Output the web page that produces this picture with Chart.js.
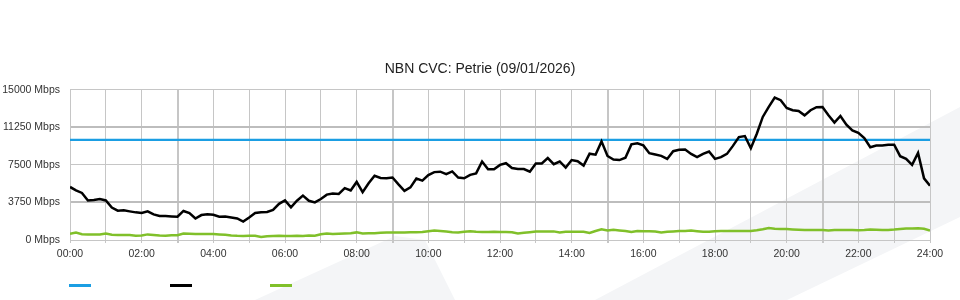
<!DOCTYPE html>
<html>
<head>
<meta charset="utf-8">
<title>NBN CVC: Petrie</title>
<script src="https://cdn.jsdelivr.net/npm/chart.js@4/dist/chart.umd.min.js"></script>
<style>
  body { margin:0; background:#fff; }
  #wrap { position:relative; width:960px; height:300px; overflow:hidden; }
  #wrap svg, #wrap canvas { position:absolute; left:0; top:0; }
  .key { position:absolute; top:284px; width:22px; height:3px; }
</style>
</head>
<body>
<div id="wrap">
  <svg width="960" height="300">
    <polygon points="255,300 395,236 425,240 455,300" fill="#f4f5f7"/>
    <polygon points="595,300 960,107 960,217 787,300" fill="#f4f5f7"/>
  </svg>
  <canvas id="cvc" width="960" height="300"></canvas>
  <div class="key" style="left:69px;background:#1b9ee3"></div>
  <div class="key" style="left:170px;background:#000"></div>
  <div class="key" style="left:270px;background:#80c02a"></div>
</div>
<script>
// samples every 10 minutes, 00:00 -> 24:00
const SAMPLE_MIN = 10;
const capacityMbps = 10000;

const trafficMbps = [
  5300, 4950, 4700, 3950, 3990, 4090, 3950, 3240, 2930, 2970, 2860, 2760, 2690, 2860, 2560, 2390, 2390, 2350, 2320, 2900, 2690, 2150, 2490, 2560, 2520,
  2320, 2350, 2250, 2150, 1840, 2250, 2690, 2760, 2800, 3000, 3610, 3950, 3270, 3920, 4430, 3920, 3750, 4090, 4530, 4640, 4600, 5180, 4940, 5800,
  4770, 5660, 6410, 6200, 6170, 6240, 5560, 4910, 5250, 6140, 5930, 6480, 6780, 6820, 6580, 6850, 6240, 6170, 6510, 6650, 7840, 7060, 7060, 7500,
  7670, 7190, 7090, 7090, 6820, 7640, 7640, 8180, 7570, 7840, 7230, 7980, 7870, 7430, 8620, 8520, 9850, 8390, 8040, 7980, 8220, 9550, 9650, 9450,
  8670, 8540, 8400, 8100, 8870, 9010, 9040, 8600, 8270, 8600, 8840, 8100, 8270, 8600, 9400, 10280, 10380, 9170, 10610, 12290, 13290, 14230, 13960, 13190,
  12960, 12890, 12450, 12960, 13260, 13290, 12450, 11720, 12390, 11520, 10950, 10710, 10180, 9270, 9440, 9440, 9510, 9510, 8370, 8100, 7500, 8700, 6160, 5420
];

const baseMbps = [
  620, 740, 580, 560, 560, 540, 650, 520, 510, 510, 500, 420, 450, 560, 500, 440, 420, 480, 470, 640, 620, 600, 600, 600, 590,
  560, 520, 450, 420, 410, 420, 420, 300, 380, 410, 420, 410, 410, 420, 410, 460, 420, 570, 640, 600, 620, 650, 680, 760,
  640, 680, 680, 720, 750, 750, 740, 750, 770, 780, 800, 880, 950, 900, 840, 770, 760, 820, 880, 820, 790, 800, 820, 800,
  790, 780, 660, 720, 780, 850, 850, 850, 860, 760, 820, 820, 830, 820, 700, 900, 1060, 940, 1020, 960, 900, 800, 900, 880,
  880, 840, 760, 830, 860, 900, 900, 950, 880, 820, 820, 880, 900, 900, 900, 900, 900, 900, 980, 1080, 1200, 1120, 1100, 1090,
  1050, 1020, 1000, 1010, 1000, 990, 960, 1010, 1000, 990, 990, 980, 1000, 1040, 1020, 1000, 1010, 1040, 1110, 1160, 1160, 1180, 1120, 940
];

const toPoints = arr => arr.map((v, i) => ({ x: i * SAMPLE_MIN / 60, y: v }));

const FONT = "'Liberation Sans', Arial, Helvetica, sans-serif";
const GRID = '#c6c6c6';
const isHeavyY = c => c.tick && (c.tick.value === 3750 || c.tick.value === 11250);

new Chart(document.getElementById('cvc'), {
  type: 'line',
  data: {
    datasets: [
      { label:'', data:[{x:0, y:capacityMbps}, {x:24, y:capacityMbps}], borderColor:'#1b9ee3', borderWidth:2.2, pointRadius:0, order:3 },
      { label:'', data:toPoints(trafficMbps), borderColor:'#000', borderWidth:2.5, pointRadius:0, tension:0, order:1 },
      { label:'', data:toPoints(baseMbps), borderColor:'#80c02a', borderWidth:2.5, pointRadius:0, tension:0, order:2 }
    ]
  },
  options: {
    responsive:false, animation:false, devicePixelRatio:1,
    layout:{ padding:0 },
    plugins:{
      legend:{ display:false },
      tooltip:{ enabled:false },
      title:{ display:true, text:'NBN CVC: Petrie (09/01/2026)', color:'#222',
        font:{ family:FONT, size:14, weight:'normal' }, padding:{ top:61, bottom:12 } }
    },
    scales:{
      x:{ type:'linear', min:0, max:24,
        afterFit: s => { s.height = 60; },
        grid:{ color:GRID, tickLength:3, lineWidth: c => (c.tick && c.tick.value % 6 === 3) ? 2 : 1 },
        border:{ color:GRID },
        ticks:{ stepSize:1, autoSkip:false, maxRotation:0, padding:5, color:'#333',
          font:{ family:FONT, size:10.5 },
          callback: v => v % 2 === 0 ? String(v).padStart(2, '0') + ':00' : '' } },
      y:{ min:0, max:15000,
        afterFit: s => { s.width = 70; },
        grid:{ color: c => isHeavyY(c) ? '#bdbdbd' : GRID, lineWidth: c => isHeavyY(c) ? 2 : 1, drawTicks:false },
        border:{ color:GRID },
        ticks:{ stepSize:3750, padding:10, color:'#333', font:{ family:FONT, size:10.5 },
          callback: v => v + ' Mbps' } },
      // empty right-hand margin so the title stays centred on the full canvas
      gutter:{ position:'right', display:true, min:0, max:1,
        afterFit: s => { s.width = 30; },
        grid:{ display:false }, border:{ display:false }, ticks:{ display:false } }
    }
  }
});
</script>
</body>
</html>
